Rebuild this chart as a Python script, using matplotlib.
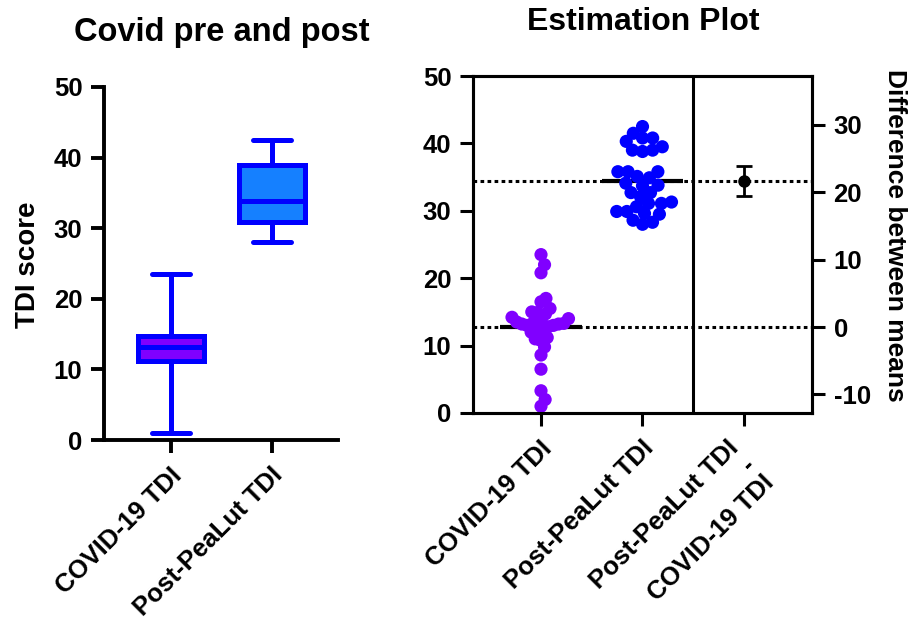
import numpy as np
import matplotlib
matplotlib.use("Agg")
import matplotlib.pyplot as plt
from matplotlib.transforms import ScaledTranslation

plt.rcParams['font.family'] = ['Liberation Sans', 'DejaVu Sans']
plt.rcParams['font.weight'] = 'bold'
plt.rcParams['axes.unicode_minus'] = False

# TDI scores
covid_tdi = [1.0, 2.0, 3.3, 6.5, 8.6, 9.8, 10.8, 11.0, 11.2, 12.0, 12.2, 12.5,
             12.8, 13.0, 13.0, 13.2, 13.2, 13.3, 13.5, 13.5, 13.8, 14.0, 14.2,
             14.7, 14.9, 15.0, 15.5, 16.5, 17.0, 20.8, 22.0, 23.5]
post_tdi = [28.0, 28.3, 28.6, 29.5, 29.6, 29.9, 29.9, 30.6, 31.1, 31.1, 31.3,
            32.1, 32.7, 32.7, 33.7, 33.8, 34.1, 34.9, 35.1, 35.8, 35.8, 35.8,
            38.8, 39.0, 39.0, 39.5, 40.3, 40.8, 40.8, 41.5, 42.5]
group_labels = ['COVID-19 TDI', 'Post-PeaLut TDI']
diff_label = 'Post-PeaLut TDI\n-\nCOVID-19 TDI'
diff_ci = (19.4, 23.9)  # 95% CI of difference

edge_blue = '#0000FF'
box_fills = ['#8000FF', '#1580FF']
dot_colors = ['#8000FF', '#0000FF']


def swarm(vals, d, sy, cap):
    # simple beeswarm in pixels, squeezed to +-cap like prism does
    vals = np.asarray(vals)
    xs = np.zeros(len(vals))
    placed = []
    for i in np.argsort(vals):
        y = vals[i] * sy
        near = [(px, py) for px, py in placed if abs(py - y) < d]
        cands = [0.0]
        for px, py in near:
            dx = np.sqrt(d * d - (py - y) ** 2)
            cands += [px + dx, px - dx]
        cands.sort(key=abs)
        for c in cands:
            if all((c - px) ** 2 + (y - py) ** 2 >= d * d - 1e-6 for px, py in near):
                xs[i] = c
                break
        placed.append((xs[i], y))
    w = np.abs(xs).max()
    if w > cap:
        xs = xs * cap / w
    return xs


fig = plt.figure(figsize=(9.2, 6.24), dpi=100)
tick_fs = 18.5

# ---- left: box plot
ax1 = fig.add_axes([104 / 920, 184 / 624, 234 / 920, 353 / 624])
bp = ax1.boxplot([covid_tdi, post_tdi], positions=[0, 1], widths=0.65,
                 whis=(0, 100), patch_artist=True, showfliers=False,
                 boxprops=dict(edgecolor=edge_blue, linewidth=3.6),
                 medianprops=dict(color=edge_blue, linewidth=3.6),
                 whiskerprops=dict(color=edge_blue, linewidth=3.6),
                 capprops=dict(color=edge_blue, linewidth=3.6, solid_capstyle='round'),
                 capwidths=0.37)
for patch, c in zip(bp['boxes'], box_fills):
    patch.set_facecolor(c)

ax1.set_xlim(-0.663, 1.653)
ax1.set_ylim(0, 50)
ax1.set_yticks(range(0, 51, 10))
ax1.set_xticks([0, 1])
ax1.set_xticklabels(group_labels, rotation=45, rotation_mode='anchor', ha='right', va='center')
for s in ['top', 'right']:
    ax1.spines[s].set_visible(False)
for s in ['left', 'bottom']:
    ax1.spines[s].set_linewidth(2.8)
ax1.tick_params(width=2.8, length=9.5, labelsize=tick_fs, pad=6)
for lab in ax1.get_xticklabels():
    lab.set_transform(lab.get_transform() + ScaledTranslation(0.07, -0.1, fig.dpi_scale_trans))

fig.text(28 / 920, 1 - 265 / 624, 'TDI score', rotation=90, ha='center', va='center', fontsize=20)
fig.text(222 / 920, 1 - 32 / 624, 'Covid pre and post', ha='center', va='center', fontsize=23.5)

# ---- right: estimation plot
ax2 = fig.add_axes([473 / 920, (624 - 413) / 624, 339 / 920, 337 / 624])
ax2.set_xlim(-0.67, 2.67)
ax2.set_ylim(0, 50)
sx = 339 / (2.67 + 0.67)
sy = 337 / 50

means = [np.mean(covid_tdi), np.mean(post_tdi)]
for k, (vals, col) in enumerate(zip([covid_tdi, post_tdi], dot_colors)):
    off = swarm(vals, 11, sy, 29) / sx
    ax2.scatter(k + off, vals, s=90, color=col, edgecolors='none', zorder=3)
    ax2.hlines(means[k], k - 0.4, k + 0.4, color='k', lw=3, zorder=2)

for m in means:
    ax2.axhline(m, color='k', lw=2.2, ls=(0, (1.2, 1.1)), zorder=1)
ax2.axvline(1.5, color='k', lw=2.2)

ax2.set_yticks(range(0, 51, 10))
ax2.set_xticks([0, 1, 2])
ax2.set_xticklabels(group_labels + [diff_label], rotation=45, rotation_mode='anchor',
                    ha='right', va='center', multialignment='right', linespacing=1.05)
for s in ax2.spines.values():
    s.set_linewidth(2.2)
ax2.tick_params(width=2.2, length=9.5, labelsize=tick_fs, pad=6)
xlabs = ax2.get_xticklabels()
for lab in xlabs[:2]:
    lab.set_transform(lab.get_transform() + ScaledTranslation(0.07, -0.1, fig.dpi_scale_trans))
xlabs[2].set_transform(xlabs[2].get_transform() + ScaledTranslation(0.08, -0.27, fig.dpi_scale_trans))

ax3 = ax2.twinx()
ax3.set_ylim(0 - means[0], 50 - means[0])
ax3.set_yticks(range(-10, 31, 10))
diff = means[1] - means[0]
ax3.errorbar([2], [diff], yerr=[[diff - diff_ci[0]], [diff_ci[1] - diff]], fmt='o',
             color='k', ms=8, capsize=6, elinewidth=2, capthick=2, zorder=4)
for s in ax3.spines.values():
    s.set_linewidth(2.2)
ax3.tick_params(width=2.2, length=9.5, labelsize=tick_fs, pad=6)

fig.text(895 / 920, 1 - 235 / 624, 'Difference between means', rotation=270,
         ha='center', va='center', fontsize=19)
fig.text(643 / 920, 1 - 22 / 624, 'Estimation Plot', ha='center', va='center', fontsize=23)

fig.savefig('out.png', dpi=100)
